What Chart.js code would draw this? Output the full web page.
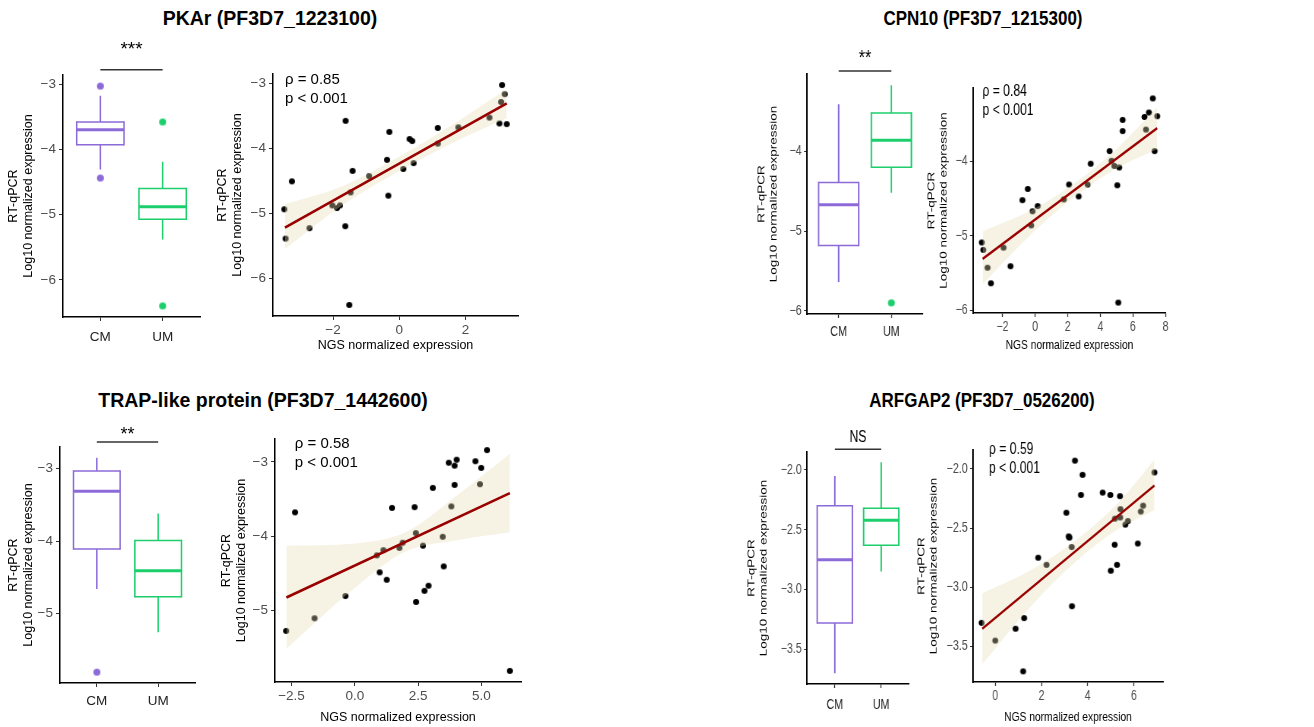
<!DOCTYPE html>
<html>
<head>
<meta charset="utf-8">
<script src="https://cdn.jsdelivr.net/npm/chart.js@4.4.1/dist/chart.umd.min.js"></script>
<style>
  body { margin: 0; background: #fff; width: 1314px; height: 727px; position: relative; overflow: hidden;
         font-family: "Liberation Sans", Arial, Helvetica, sans-serif; }
  .title { position: absolute; font-weight: bold; font-size: 19.5px; line-height: 22px; white-space: nowrap;
           transform: translateX(-50%); color: #000; }
  .narrow { transform: translateX(-50%) scaleX(0.87); }
</style>
</head>
<body>
<div class="title" style="left:270px;top:7px">PKAr (PF3D7_1223100)</div>
<div class="title narrow" style="left:983px;top:7px">CPN10 (PF3D7_1215300)</div>
<div class="title" style="left:263px;top:389px">TRAP-like protein (PF3D7_1442600)</div>
<div class="title narrow" style="left:982px;top:389px">ARFGAP2 (PF3D7_0526200)</div>

<script>
// ---- data ----
const groups = ['CM', 'UM'];

// PKAr
const pkarNgs  = [3.10, 3.18, 3.07, 3.02, 3.24, 2.72, 1.78, 1.16, 1.16, 0.31, 0.39, -0.30, -0.37, 0.12, 0.43,
                  -0.33, -0.91, -1.62, -1.41, -1.47, -1.79, -1.88, -2.02, -1.63, -1.51, -2.71, -3.24, -3.47, -3.43];
const pkarQpcr = [-3.03, -3.17, -3.29, -3.62, -3.63, -3.53, -3.68, -3.69, -3.93, -3.86, -3.89, -3.75, -4.18, -4.32, -4.23,
                  -4.73, -4.43, -3.58, -4.35, -4.68, -4.88, -4.92, -4.88, -5.20, -6.41, -5.23, -4.51, -4.94, -5.39];
const pkarFitX = [-3.45, 3.24];
const pkarFitY = [-5.22, -3.31];
const pkarBandX  = [-3.45, -1.7, 0, 1.6, 3.24];
const pkarBandHi = [-4.86, -4.58, -4.13, -3.64, -3.09];
const pkarBandLo = [-5.55, -4.87, -4.35, -3.92, -3.54];
// box stats: [lower whisker, q1, median, q3, upper whisker]
const pkarCM = [-4.31, -3.93, -3.70, -3.58, -3.18];
const pkarUM = [-5.38, -5.07, -4.88, -4.60, -4.19];
const pkarOutCM = [-3.03, -4.44];
const pkarOutUM = [-3.58, -6.40];

// CPN10
const cpnNgs  = [7.22, 6.98, 6.71, 7.49, 5.37, 5.37, 6.80, 7.33, 4.57, 4.69, 4.86, 5.16, 5.04, 5.10, 3.41,
                 3.22, 2.67, 2.08, 1.76, 0.16, -0.16, -0.24, -0.45, -0.78, -1.94, -1.51, -3.27, -3.18, -2.92, -2.71];
const cpnQpcr = [-3.15, -3.34, -3.40, -3.39, -3.44, -3.59, -3.57, -3.86, -3.86, -3.99, -4.06, -4.08, -4.32, -5.90, -4.03,
                 -4.31, -4.47, -4.31, -4.51, -4.60, -4.67, -4.86, -4.37, -4.52, -5.16, -5.41, -5.09, -5.19, -5.43, -5.64];
const cpnFitX = [-3.22, 7.49];
const cpnFitY = [-5.31, -3.55];
const cpnBandX  = [-3.22, 0, 2.5, 5, 7.49];
const cpnBandHi = [-4.94, -4.63, -4.28, -3.83, -3.27];
const cpnBandLo = [-5.65, -4.93, -4.46, -4.09, -3.83];
const cpnCM = [-5.64, -5.18, -4.67, -4.39, -3.41];
const cpnUM = [-4.52, -4.20, -3.86, -3.52, -3.17];
const cpnOutCM = [];
const cpnOutUM = [-5.90];

// TRAP-like protein
const trapNgs  = [5.22, 4.76, 4.99, 4.94, 4.02, 3.71, 3.94, 3.94, 3.81, 3.08, 2.36, 1.47, 2.41, 2.69, 3.47,
                  3.51, 1.76, 1.89, 1.13, 0.87, 0.98, 1.26, 2.91, 2.75, 2.42, -0.37, -1.59, -2.71, -2.36, 6.12];
const trapQpcr = [-2.84, -2.99, -3.08, -3.30, -2.97, -3.01, -3.05, -3.31, -3.60, -3.35, -3.61, -3.62, -3.96, -4.13, -4.01,
                  -4.41, -4.16, -4.09, -4.19, -4.26, -4.49, -4.59, -4.67, -4.74, -4.89, -4.81, -5.11, -5.28, -3.68, -5.82];
const trapFitX = [-2.70, 6.12];
const trapFitY = [-4.83, -3.42];
const trapBandX  = [-2.70, 0, 2, 4, 6.12];
const trapBandHi = [-4.13, -4.10, -3.95, -3.46, -2.89];
const trapBandLo = [-5.52, -4.70, -4.21, -4.06, -3.95];
const trapCM = [-4.66, -4.11, -3.31, -3.03, -2.85];
const trapUM = [-5.26, -4.77, -4.41, -3.99, -3.62];
const trapOutCM = [-5.81];
const trapOutUM = [];

// ARFGAP2
const arfNgs  = [3.45, 3.78, 3.71, 4.65, 4.98, 5.40, 6.89, 6.40, 6.30, 5.42, 5.18, 5.41, 5.74, 5.63, 5.17,
                 6.17, 5.27, 5.00, 3.08, 3.18, 3.21, 3.31, 3.32, 2.22, 1.86, 1.25, 0.88, 1.21, 0.00, -0.59];
const arfQpcr = [-1.93, -2.05, -2.22, -2.20, -2.22, -2.23, -2.03, -2.31, -2.36, -2.34, -2.42, -2.41, -2.44, -2.47, -2.64,
                 -2.63, -2.81, -2.86, -2.37, -2.57, -2.58, -2.66, -3.16, -2.81, -2.75, -3.26, -3.35, -3.71, -3.45, -3.30];
const arfFitX = [-0.56, 6.89];
const arfFitY = [-3.35, -2.14];
const arfBandX  = [-0.56, 1.5, 3.5, 5.3, 6.89];
const arfBandHi = [-3.05, -2.86, -2.60, -2.29, -1.92];
const arfBandLo = [-3.65, -3.17, -2.78, -2.51, -2.35];
const arfCM = [-3.70, -3.28, -2.75, -2.30, -2.05];
const arfUM = [-2.85, -2.63, -2.42, -2.32, -1.935];
const arfOutCM = [];
const arfOutUM = [];

// ---- drawing ----
const F = '"Liberation Sans", Arial, Helvetica, sans-serif';
const CM_COL = '#8c6bd8';
const UM_COL = '#1ccf6c';
const fmt = (v, d) => (v < 0 ? '\u2212' : '') + Math.abs(v).toFixed(d);
const zip = (xs, ys) => xs.map((x, i) => ({ x: x, y: ys[i] }));

// round dot that stays round once the canvas is squeezed by scaleX(s)
function dot(color, d, s) {
  const c = document.createElement('canvas');
  c.width = Math.ceil((d + 2) / s);
  c.height = d + 2;
  const g = c.getContext('2d');
  g.fillStyle = color;
  g.beginPath();
  g.ellipse(c.width / 2, c.height / 2, d / 2 / s, d / 2, 0, 0, Math.PI * 2);
  g.fill();
  return c;
}

function makeCanvas(f) {
  const s = f.s || 1;
  const cv = document.createElement('canvas');
  cv.width = Math.round((f.r - f.l) / s);
  cv.height = Math.round(f.b - f.t);
  cv.style.cssText = 'position:absolute;left:' + f.l + 'px;top:' + f.t + 'px;transform:scaleX(' + s + ');transform-origin:0 0';
  document.body.appendChild(cv);
  return {
    cv: cv, s: s,
    yw: (f.pl - f.l) / s,
    xh: f.b - f.pb,
    padTop: f.pt - f.t,
    padRight: cv.width - (f.pr - f.l) / s
  };
}

function yAxis(min, max, ticks, dec, c, fs) {
  return {
    type: 'linear', min: min, max: max,
    afterBuildTicks: sc => { sc.ticks = ticks.map(v => ({ value: v })); },
    afterFit: sc => { sc.width = c.yw; },
    ticks: { callback: v => fmt(v, dec), color: '#4d4d4d', font: { size: fs.tick, family: F }, padding: 3 },
    grid: { drawOnChartArea: false, tickLength: 4, tickColor: '#333', tickWidth: 1 },
    border: { color: '#000', width: 1.5 / c.s },
    title: { display: true, text: ['RT-qPCR', 'Log10 normalized expression'], color: '#000',
             font: { size: fs.title, family: F, lineHeight: fs.lh }, padding: 0 }
  };
}

function xAxis(min, max, ticks, labelFn, c, fs, pad, color, title) {
  return {
    type: 'linear', min: min, max: max,
    afterBuildTicks: sc => { sc.ticks = ticks.map(v => ({ value: v })); },
    afterFit: sc => { sc.height = c.xh; },
    ticks: { callback: labelFn, color: color, font: { size: fs.tick, family: F }, padding: pad, maxRotation: 0 },
    grid: { drawOnChartArea: false, tickLength: 4, tickColor: '#333', tickWidth: 1 / c.s },
    border: { color: '#000', width: 1.5 },
    title: title ? { display: true, text: title, color: '#000', font: { size: fs.title, family: F }, padding: 0 }
                 : { display: false }
  };
}

function boxChart(f, cmStats, umStats, outCM, outUM, yMin, yMax, yTicks, dec, fs, sig) {
  const c = makeCanvas(f);
  const s = c.s;
  const boxPlugin = {
    id: 'boxes',
    beforeDatasetsDraw(chart) {
      const ctx = chart.ctx, x = chart.scales.x, y = chart.scales.y;
      [[1, cmStats, CM_COL], [2, umStats, UM_COL]].forEach(([pos, st, col]) => {
        const cx = x.getPixelForValue(pos);
        const hw = x.getPixelForValue(pos + 0.38) - cx;
        const [lo, q1, med, q3, hi] = st.map(v => y.getPixelForValue(v));
        ctx.save();
        ctx.strokeStyle = col;
        ctx.fillStyle = '#fff';
        ctx.fillRect(cx - hw, q3, 2 * hw, q1 - q3);
        ctx.lineWidth = 1.5 / s;
        ctx.beginPath();
        ctx.moveTo(cx, hi); ctx.lineTo(cx, q3);
        ctx.moveTo(cx, q1); ctx.lineTo(cx, lo);
        ctx.moveTo(cx - hw, q3 - 0.75); ctx.lineTo(cx - hw, q1 + 0.75);
        ctx.moveTo(cx + hw, q3 - 0.75); ctx.lineTo(cx + hw, q1 + 0.75);
        ctx.stroke();
        ctx.lineWidth = 1.5;
        ctx.beginPath();
        ctx.moveTo(cx - hw, q3); ctx.lineTo(cx + hw, q3);
        ctx.moveTo(cx - hw, q1); ctx.lineTo(cx + hw, q1);
        ctx.stroke();
        ctx.lineWidth = 3;
        ctx.beginPath();
        ctx.moveTo(cx - hw, med); ctx.lineTo(cx + hw, med);
        ctx.stroke();
        ctx.restore();
      });
    },
    afterDraw(chart) {
      const ctx = chart.ctx, x = chart.scales.x, top = chart.chartArea.top;
      const x1 = x.getPixelForValue(1), x2 = x.getPixelForValue(2);
      ctx.save();
      ctx.strokeStyle = '#333';
      ctx.lineWidth = 1.5;
      ctx.beginPath();
      ctx.moveTo(x1, top + sig.bar); ctx.lineTo(x2, top + sig.bar);
      ctx.stroke();
      ctx.fillStyle = '#000';
      ctx.font = sig.size + 'px ' + F;
      ctx.textAlign = 'center';
      ctx.textBaseline = 'alphabetic';
      ctx.fillText(sig.text, (x1 + x2) / 2, top + sig.base);
      ctx.restore();
    }
  };
  new Chart(c.cv, {
    type: 'scatter',
    data: {
      datasets: [
        { data: outCM.map(v => ({ x: 1, y: v })), pointStyle: dot(CM_COL, 7, s), pointRadius: 3.5 },
        { data: outUM.map(v => ({ x: 2, y: v })), pointStyle: dot(UM_COL, 7, s), pointRadius: 3.5 }
      ]
    },
    options: {
      responsive: false, animation: false,
      layout: { padding: { top: c.padTop, right: c.padRight, left: 0, bottom: 0 } },
      plugins: { legend: { display: false }, tooltip: { enabled: false } },
      scales: {
        x: xAxis(0.4, 2.6, [1, 2], v => groups[Math.round(v) - 1], c, fs, sig.labPad, '#222', null),
        y: yAxis(yMin, yMax, yTicks, dec, c, fs)
      }
    },
    plugins: [boxPlugin]
  });
}

function corrChart(f, ngs, qpcr, fitX, fitY, bandX, bandLo, bandHi, xr, xTicks, xDec, yr, yTicks, yDec, fs, note) {
  const c = makeCanvas(f);
  const notePlugin = {
    id: 'note',
    afterDraw(chart) {
      const ctx = chart.ctx;
      const px = chart.scales.x.getPixelForValue(note.x);
      const py = chart.scales.y.getPixelForValue(note.y);
      ctx.save();
      ctx.fillStyle = '#000';
      ctx.font = fs.note + 'px ' + F;
      ctx.textAlign = 'left';
      ctx.textBaseline = 'middle';
      ctx.fillText('\u03c1 = ' + note.rho, px, py);
      ctx.fillText('p < 0.001', px, py + 19);
      ctx.restore();
    }
  };
  new Chart(c.cv, {
    type: 'scatter',
    data: {
      datasets: [
        { data: zip(ngs, qpcr), pointStyle: dot('#000', 6, c.s), pointRadius: 3, order: 3 },
        { type: 'line', data: zip(bandX, bandLo), borderWidth: 0, pointRadius: 0, fill: false,
          cubicInterpolationMode: 'monotone', order: 2 },
        { type: 'line', data: zip(bandX, bandHi), borderWidth: 0, pointRadius: 0, fill: '-1',
          backgroundColor: 'rgba(228,220,180,0.35)', cubicInterpolationMode: 'monotone', order: 2 },
        { type: 'line', data: zip(fitX, fitY), borderColor: '#990000', borderWidth: 2.6, pointRadius: 0,
          fill: false, order: 1 }
      ]
    },
    options: {
      responsive: false, animation: false,
      layout: { padding: { top: c.padTop, right: c.padRight, left: 0, bottom: 0 } },
      plugins: { legend: { display: false }, tooltip: { enabled: false } },
      scales: {
        x: xAxis(xr[0], xr[1], xTicks, v => fmt(v, xDec), c, fs, 2, '#4d4d4d', 'NGS normalized expression'),
        y: yAxis(yr[0], yr[1], yTicks, yDec, c, fs)
      }
    },
    plugins: [notePlugin]
  });
}

const LEFT_FONT  = { tick: 13.5, title: 12.5, lh: 1.2, note: 15 };
const RIGHT_FONT = { tick: 14, title: 13.5, lh: 1.15, note: 16 };
const SQ = 0.76;

// PKAr
boxChart({ l: 6, t: 30, r: 205, b: 350, pl: 63, pt: 75, pr: 200, pb: 317 },
  pkarCM, pkarUM, pkarOutCM, pkarOutUM, -6.57, -2.86, [-6, -5, -4, -3], 0, LEFT_FONT,
  { text: '***', size: 19, bar: -5.3, base: -20, labPad: 8 });
corrChart({ l: 215, t: 60, r: 525, b: 353, pl: 273, pt: 74, pr: 518, pb: 316 },
  pkarNgs, pkarQpcr, pkarFitX, pkarFitY, pkarBandX, pkarBandLo, pkarBandHi,
  [-3.81, 3.58], [-2, 0, 2], 0, [-6.58, -2.86], [-6, -5, -4, -3], 0, LEFT_FONT,
  { x: -3.45, y: -2.95, rho: '0.85' });

// CPN10
boxChart({ l: 756, t: 40, r: 930, b: 345, pl: 807, pt: 74, pr: 923, pb: 314, s: SQ },
  cpnCM, cpnUM, cpnOutCM, cpnOutUM, -6.04, -3.03, [-6, -5, -4], 0, RIGHT_FONT,
  { text: '**', size: 21, bar: -3, base: -10, labPad: 6 });
corrChart({ l: 926, t: 70, r: 1172, b: 353, pl: 973, pt: 88, pr: 1166, pb: 313, s: SQ },
  cpnNgs, cpnQpcr, cpnFitX, cpnFitY, cpnBandX, cpnBandLo, cpnBandHi,
  [-3.81, 8.03], [-2, 0, 2, 4, 6, 8], 0, [-6.04, -3.01], [-6, -5, -4], 0, RIGHT_FONT,
  { x: -3.23, y: -3.06, rho: '0.84' });

// TRAP-like protein
boxChart({ l: 6, t: 410, r: 200, b: 715, pl: 60, pt: 447, pr: 195, pb: 683 },
  trapCM, trapUM, trapOutCM, trapOutUM, -5.96, -2.70, [-5, -4, -3], 0, LEFT_FONT,
  { text: '**', size: 18, bar: -5, base: -7, labPad: 6 });
corrChart({ l: 219, t: 420, r: 527, b: 725, pl: 275, pt: 439, pr: 521, pb: 682 },
  trapNgs, trapQpcr, trapFitX, trapFitY, trapBandX, trapBandLo, trapBandHi,
  [-3.15, 6.56], [-2.5, 0, 2.5, 5], 1, [-5.97, -2.69], [-5, -4, -3], 0, LEFT_FONT,
  { x: -2.37, y: -2.75, rho: '0.58' });

// ARFGAP2
boxChart({ l: 746, t: 415, r: 915, b: 715, pl: 807, pt: 452, pr: 909, pb: 684, s: SQ },
  arfCM, arfUM, arfOutCM, arfOutUM, -3.79, -1.85, [-3.5, -3, -2.5, -2], 1, RIGHT_FONT,
  { text: 'NS', size: 16, bar: -2.7, base: -9.7, labPad: 9 });
corrChart({ l: 916, t: 430, r: 1170, b: 725, pl: 973, pt: 450, pr: 1163, pb: 682, s: SQ },
  arfNgs, arfQpcr, arfFitX, arfFitY, arfBandX, arfBandLo, arfBandHi,
  [-0.96, 7.26], [0, 2, 4, 6], 0, [-3.80, -1.84], [-3.5, -3, -2.5, -2], 1, RIGHT_FONT,
  { x: -0.27, y: -1.84, rho: '0.59' });
</script>
</body>
</html>
